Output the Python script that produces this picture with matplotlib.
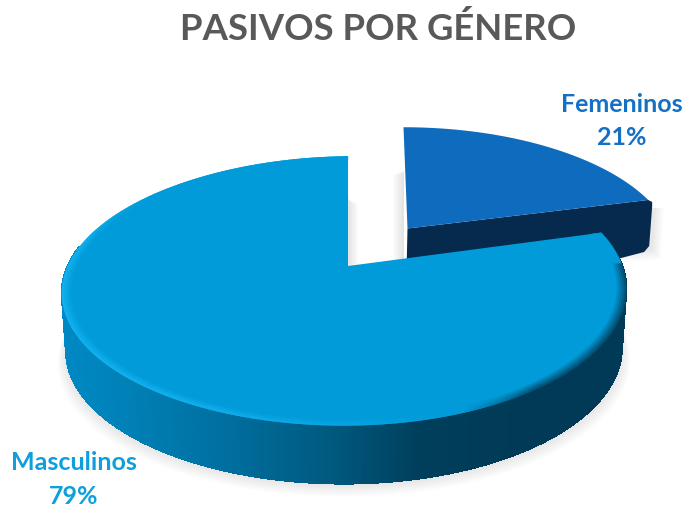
import numpy as np
import matplotlib
matplotlib.use("Agg")
import matplotlib.pyplot as plt
from matplotlib.collections import PolyCollection
from matplotlib.path import Path
from matplotlib.transforms import Transform, Affine2D
from matplotlib.colors import to_rgb

categories = ["Femeninos", "Masculinos"]
shares = [21, 79]
slice_colors = ["#0F6BBE", "#009BD8"]
label_colors = ["#1470C4", "#0F9FDC"]
title = "PASIVOS POR GÉNERO"

plt.rcParams["font.family"] = ["Lato", "DejaVu Sans"]


class Persp(Transform):
    input_dims = output_dims = 2
    has_inverse = False

    def __init__(self, cx, cy, a, b, p=0.185, asym=0.0, tilt=0.0, skew=0.0):
        super().__init__()
        self.c = (cx, cy, a, b, p, asym, tilt, skew)

    def transform_non_affine(self, pts):
        cx, cy, a, b, p, asym, tilt, skew = self.c
        pts = np.asarray(pts, float)
        u, v = pts[:, 0], pts[:, 1]
        w = 1 + p * v
        x = cx + (b - asym * u) * u / w + skew * v
        y = cy - a * v / w - tilt * u
        return np.column_stack([x, y])

    def transform_path_non_affine(self, path):
        big = Affine2D().scale(2000).transform_path(path)
        poly = big.to_polygons(closed_only=False)[0] / 2000
        return Path(self.transform_non_affine(poly))


fig = plt.figure(figsize=(6.84, 5.10), dpi=100)
ax = fig.add_axes([0, 0, 1, 1])

wedges, _ = ax.pie(shares, startangle=90, counterclock=False, radius=1,
                   colors=slice_colors, wedgeprops=dict(linewidth=0))
ax.set_aspect("auto")
ax.set_xlim(0, 684)
ax.set_ylim(510, 0)
ax.axis("off")

fem, mas = wedges
P_mas = Persp(348, 267, 130, 277.3, asym=4, tilt=2.5)
P_fem = Persp(407.5, 229.5, 120, 261, skew=-4)


def ring(P, t1, t2, r=1.0, n=240):
    t = np.radians(np.linspace(t1, t2, n))
    return P.transform_non_affine(np.column_stack([r * np.cos(t), r * np.sin(t)]))


def blend(c1, c2, f):
    c1, c2 = np.array(to_rgb(c1)), np.array(to_rgb(c2))
    return tuple(c1 + (c2 - c1) * f)


def soft(poly_fn, steps, color="#808080", alpha=0.022, zorder=1):
    for i in range(steps):
        ax.fill(*poly_fn(i / max(steps - 1, 1)).T, color=color, alpha=alpha,
                lw=0, zorder=zorder)


t1, t2 = mas.theta1, mas.theta2
DEPTH = 58


def lower(pts, shrink=0.985, d=DEPTH):
    out = pts.copy()
    out[:, 0] = 344 + (out[:, 0] - 344) * shrink
    out[:, 1] = out[:, 1] + d
    return out


# drop shadow beneath the disc
fullrim = ring(P_mas, 180, 360)


def mas_shadow(f):
    pts = lower(fullrim).copy()
    pts[:, 0] = 344 + (pts[:, 0] - 344) * (1.0 + 0.03 * (1 - f))
    pts[:, 1] += 12 * (1 - f) + 1
    return pts


soft(mas_shadow, 9, zorder=1)


# femeninos: shadows, wall, top
def fem_shadow(f):
    c = P_fem.transform_non_affine(np.array([[0.968, 0.249]]))[0]
    e = 9 * (1 - f)
    return np.array([[c[0] - 60, c[1] + 56 + e], [c[0] + 4 + e, c[1] + 50 + e],
                     [c[0] + 7 + e, c[1] + 8], [c[0], c[1] + 8]])


soft(fem_shadow, 8, zorder=1)

for i in range(8):
    f = i / 7
    ax.fill([404 - 11 * (1 - f), 404, 404, 404 - 11 * (1 - f)],
            [176, 172, 262, 262], color="#808080", alpha=0.03, lw=0, zorder=1)
    ax.fill([348, 348 + 10 * (1 - f), 348 + 10 * (1 - f), 348],
            [200, 205, 266, 268], color="#808080", alpha=0.03, lw=0, zorder=1)

apex = P_fem.transform_non_affine(np.array([[0.0, 0.0]]))[0]
t = np.radians(fem.theta1)
corner = P_fem.transform_non_affine(np.array([[np.cos(t), np.sin(t)]]))[0]
wall = np.array([apex, corner,
                 corner + (4, 2), corner + (4, 6),
                 corner + (1, 46), corner + (-4, 52),
                 apex + (-2, 86)])
ax.fill(*wall.T, color="#062A4E", lw=0, zorder=2)

fem.set_transform(P_fem + ax.transData)
fem.set_zorder(3)

# masculinos wall with horizontal gradient
stops_x = [62, 130, 230, 340, 420, 520, 626]
stops_c = ["#0089C4", "#0080B6", "#006E9E", "#00577C", "#003F5C", "#003A56", "#003A56"]
stops_rgb = np.array([to_rgb(c) for c in stops_c])

front = ring(P_mas, 170, 372, n=500)
back = lower(front)
quads, cols = [], []
for i in range(len(front) - 1):
    quads.append([front[i], front[i + 1], back[i + 1], back[i]])
    xm = (front[i, 0] + front[i + 1, 0]) / 2
    cols.append([np.interp(xm, stops_x, stops_rgb[:, k]) for k in range(3)])
ax.add_collection(PolyCollection(quads, facecolors=cols, edgecolors=cols,
                                 linewidths=0.8, antialiaseds=False, zorder=4))

mas.set_transform(P_mas + ax.transData)
mas.set_zorder(5)


# bevel along the rim: bright at the left, dark at the right
def edge_color(theta):
    th = theta % 360
    base = slice_colors[1]
    bright = "#16B4F4"
    dark = "#003A56"
    if th < 140:
        return to_rgb(base)
    if th < 170:
        return blend(base, bright, (th - 140) / 30 * 0.9)
    if th < 245:
        return blend(base, bright, 0.9)
    if th < 290:
        return blend(base, bright, 0.9 * (290 - th) / 45)
    if th < 305:
        return blend(base, dark, (th - 290) / 15 * 0.8)
    return blend(base, dark, 0.8)


radii = np.linspace(1.0, 0.96, 7)
ts = np.linspace(t1, t2, 300)
quads, cols = [], []
for j in range(len(radii) - 1):
    f = j / (len(radii) - 2)
    for a0, a1 in zip(ts[:-1], ts[1:]):
        th = np.radians([a0, a1])
        o = P_mas.transform_non_affine(np.column_stack([radii[j] * np.cos(th), radii[j] * np.sin(th)]))
        n = P_mas.transform_non_affine(np.column_stack([radii[j + 1] * np.cos(th), radii[j + 1] * np.sin(th)]))
        quads.append([o[0], o[1], n[1], n[0]])
        cols.append(blend(edge_color((a0 + a1) / 2), slice_colors[1], f))
ax.add_collection(PolyCollection(quads, facecolors=cols, edgecolors=cols,
                                 linewidths=0.2, zorder=6))

# text
ax.text(378, 29, title, ha="center", va="center", fontsize=26.3,
        fontweight="bold", color="#595959", zorder=10)
ax.text(622, 105, categories[0], ha="center", va="center", fontsize=18,
        fontweight="bold", color=label_colors[0], zorder=10)
ax.text(622, 138, f"{shares[0]}%", ha="center", va="center", fontsize=18,
        fontweight="bold", color=label_colors[0], zorder=10)
ax.text(74, 463, categories[1], ha="center", va="center", fontsize=18,
        fontweight="bold", color=label_colors[1], zorder=10)
ax.text(74, 497, f"{shares[1]}%", ha="center", va="center", fontsize=18,
        fontweight="bold", color=label_colors[1], zorder=10)

fig.savefig("out.png", dpi=100, facecolor="white")
